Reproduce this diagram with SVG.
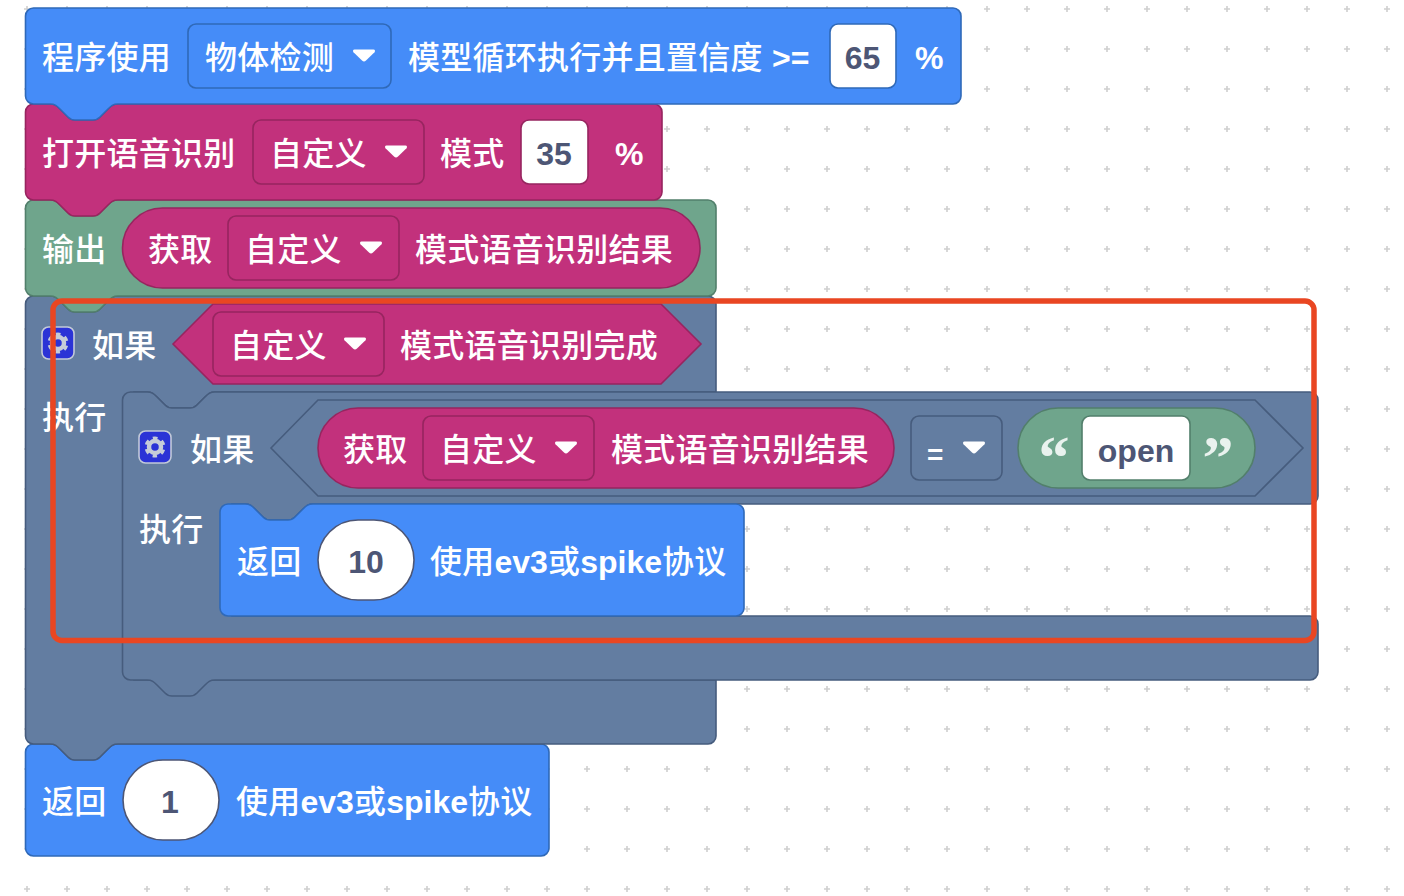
<svg xmlns="http://www.w3.org/2000/svg" width="1404" height="896" viewBox="0 0 1404 896">
<style>
text{font-family:"Noto Sans CJK SC","Liberation Sans",sans-serif;font-size:32px;font-weight:500;fill:#fff;letter-spacing:.25px}
.lat{font-family:"Liberation Sans","Noto Sans CJK SC",sans-serif;font-weight:700;letter-spacing:0}
.val{font-family:"Liberation Sans",sans-serif;font-size:32px;font-weight:700;fill:#4d5675;text-anchor:middle;letter-spacing:0}
.q{font-family:"Liberation Serif",serif;font-size:62px;font-weight:700;fill:#fff;fill-opacity:.85;text-anchor:middle;letter-spacing:0}
.blue{fill:#458cf8;stroke:#2f69b8;stroke-width:1.6}
.mag{fill:#c2317c;stroke:#97255f;stroke-width:1.6}
.grn{fill:#6fa58c;stroke:#527f6b;stroke-width:1.6}
.sl{fill:#637da1;stroke:#465c7d;stroke-width:1.6}
.field{fill:#fff}
.vp{fill:#fff;stroke:#4d5675;stroke-width:1.6}
</style>
<defs>
<pattern id="grid" patternUnits="userSpaceOnUse" x="7" y="-11" width="40" height="40">
<path d="M19.200 17h1.600v2.200H23v1.600h-2.200V23h-1.600v-2.200H17v-1.600h2.200z" fill="#cfcfcf"/>
</pattern>
<path id="chev" d="M-9.500-6.500h19c1.500 0 2 1.500 1 2.700l-8.500 8.300c-1.300 1.200-2.700 1.200-4 0l-8.500-8.300c-1-1.200-.5-2.700 1-2.700z" fill="#fff"/>
<g id="gear">
<rect x="-15.500" y="-16" width="32" height="32" rx="6.500" fill="#2b33d6" stroke="#c2c9d9" stroke-width="1.600"/>
<circle cx=".5" cy="0" r="6" fill="none" stroke="#c6ccd8" stroke-width="4.500"/>
<circle cx=".5" cy="0" r="9" fill="none" stroke="#c6ccd8" stroke-width="3" stroke-dasharray="4.700 4.720" stroke-dashoffset="2.350" transform="rotate(90 .5 0)"/>
</g>
</defs>
<rect width="1404" height="896" fill="#fff"/>
<rect width="1404" height="896" fill="url(#grid)"/>

<g id="return-1">
<path class="blue" d="M25.500 752a8 8 0 0 1 8-8H50c5 0 7 2 10 5l8 8c2 2 4 3 7 3h18c3 0 5-1 7-3l8-8c3-3 5-5 10-5H541a8 8 0 0 1 8 8v96a8 8 0 0 1-8 8H33.500a8 8 0 0 1-8-8z"/>
<text x="42" y="813">返回</text>
<rect class="vp" x="123" y="760" width="96" height="80" rx="40"/>
<text class="val" x="170" y="813">1</text>
<text x="236" y="813">使用<tspan class="lat">ev3</tspan>或<tspan class="lat">spike</tspan>协议</text>
</g>

<g id="if-outer">
<path class="sl" d="M25.500 304a8 8 0 0 1 8-8H50c5 0 7 2 10 5l8 8c2 2 4 3 7 3h18c3 0 5-1 7-3l8-8c3-3 5-5 10-5H708a8 8 0 0 1 8 8V392H215c-5 0-7 2-10 5l-8 8c-2 2-4 3-7 3h-18c-3 0-5-1-7-3l-8-8c-3-3-5-5-10-5H134V680H716V736a8 8 0 0 1-8 8H118c-5 0-7 2-10 5l-8 8c-2 2-4 3-7 3H75c-3 0-5-1-7-3l-8-8c-3-3-5-5-10-5H33.500a8 8 0 0 1-8-8z"/>
<use href="#gear" x="57.500" y="343"/>
<text x="92" y="357">如果</text>
<polygon class="mag" points="173,344 213,304 661,304 701,344 661,384 213,384"/>
<rect class="mag" x="213" y="312" width="171" height="64" rx="8"/>
<text x="230" y="357">自定义</text>
<use href="#chev" x="355" y="344"/>
<text x="400" y="357">模式语音识别完成</text>
<text x="42" y="429">执行</text>
</g>

<g id="if-inner">
<path class="sl" d="M122.500 400a8 8 0 0 1 8-8H147c5 0 7 2 10 5l8 8c2 2 4 3 7 3h18c3 0 5-1 7-3l8-8c3-3 5-5 10-5H1310a8 8 0 0 1 8 8v96a8 8 0 0 1-8 8H313c-5 0-7 2-10 5l-8 8c-2 2-4 3-7 3h-18c-3 0-5-1-7-3l-8-8c-3-3-5-5-10-5H232V616H1310a8 8 0 0 1 8 8v48a8 8 0 0 1-8 8H215c-5 0-7 2-10 5l-8 8c-2 2-4 3-7 3h-18c-3 0-5-1-7-3l-8-8c-3-3-5-5-10-5h-16.500a8 8 0 0 1-8-8z"/>
<use href="#gear" x="154.500" y="447"/>
<text x="190" y="461">如果</text>
<polygon class="sl" points="271,448 318,400 1255,400 1303,448 1255,496 318,496"/>
<rect class="mag" x="318" y="408" width="576" height="80" rx="40"/>
<text x="343" y="461">获取</text>
<rect class="mag" x="423" y="416" width="171" height="64" rx="8"/>
<text x="440" y="461">自定义</text>
<use href="#chev" x="566" y="448"/>
<text x="611" y="461">模式语音识别结果</text>
<rect class="sl" x="911" y="416" width="91" height="64" rx="8"/>
<text class="lat" x="927" y="464" style="font-size:28px">=</text>
<use href="#chev" x="974" y="448"/>
<rect class="grn" x="1018" y="408" width="237" height="80" rx="40"/>
<text class="q" x="1054" y="478">“</text>
<rect class="field" x="1082" y="416" width="108" height="64" rx="8" stroke="#527f6b" stroke-width="1.600"/>
<text class="val" x="1136" y="462">open</text>
<text class="q" x="1218" y="478">”</text>
<text x="139" y="541">执行</text>
</g>

<g id="return-10">
<path class="blue" d="M220 512a8 8 0 0 1 8-8H245c5 0 7 2 10 5l8 8c2 2 4 3 7 3h18c3 0 5-1 7-3l8-8c3-3 5-5 10-5H736a8 8 0 0 1 8 8v96a8 8 0 0 1-8 8H228a8 8 0 0 1-8-8z"/>
<text x="237" y="573">返回</text>
<rect class="vp" x="318" y="520" width="96" height="80" rx="40"/>
<text class="val" x="366" y="573">10</text>
<text x="430" y="573">使用<tspan class="lat">ev3</tspan>或<tspan class="lat">spike</tspan>协议</text>
</g>

<g id="output">
<path class="grn" d="M25.500 208a8 8 0 0 1 8-8H50c5 0 7 2 10 5l8 8c2 2 4 3 7 3h18c3 0 5-1 7-3l8-8c3-3 5-5 10-5H708a8 8 0 0 1 8 8v80a8 8 0 0 1-8 8H118c-5 0-7 2-10 5l-8 8c-2 2-4 3-7 3H75c-3 0-5-1-7-3l-8-8c-3-3-5-5-10-5H33.500a8 8 0 0 1-8-8z"/>
<text x="42" y="261">输出</text>
<rect class="mag" x="122.500" y="208" width="577.500" height="80" rx="40"/>
<text x="148" y="261">获取</text>
<rect class="mag" x="228" y="216" width="171" height="64" rx="8"/>
<text x="245" y="261">自定义</text>
<use href="#chev" x="371" y="248"/>
<text x="415" y="261">模式语音识别结果</text>
</g>

<g id="voice">
<path class="mag" d="M25.500 112a8 8 0 0 1 8-8H50c5 0 7 2 10 5l8 8c2 2 4 3 7 3h18c3 0 5-1 7-3l8-8c3-3 5-5 10-5H654a8 8 0 0 1 8 8v80a8 8 0 0 1-8 8H118c-5 0-7 2-10 5l-8 8c-2 2-4 3-7 3H75c-3 0-5-1-7-3l-8-8c-3-3-5-5-10-5H33.500a8 8 0 0 1-8-8z"/>
<text x="42" y="165">打开语音识别</text>
<rect class="mag" x="253" y="120" width="171" height="64" rx="8"/>
<text x="270" y="165">自定义</text>
<use href="#chev" x="396" y="152"/>
<text x="440" y="165">模式</text>
<rect class="field" x="521" y="120" width="67" height="64" rx="8" stroke="#97255f" stroke-width="1.600"/>
<text class="val" x="554" y="165">35</text>
<text class="lat" x="615" y="165">%</text>
</g>

<g id="detect">
<path class="blue" d="M25.500 16a8 8 0 0 1 8-8H953a8 8 0 0 1 8 8v80a8 8 0 0 1-8 8H118c-5 0-7 2-10 5l-8 8c-2 2-4 3-7 3H75c-3 0-5-1-7-3l-8-8c-3-3-5-5-10-5H33.500a8 8 0 0 1-8-8z"/>
<text x="42" y="69">程序使用</text>
<rect class="blue" x="188" y="24" width="203" height="64" rx="8"/>
<text x="205" y="69">物体检测</text>
<use href="#chev" x="364" y="56"/>
<text x="408" y="69">模型循环执行并且置信度</text>
<text class="lat" x="772" y="69">&gt;=</text>
<rect class="field" x="830" y="24" width="66" height="64" rx="8" stroke="#2f69b8" stroke-width="1.600"/>
<text class="val" x="862.500" y="69">65</text>
<text class="lat" x="915" y="69">%</text>
</g>

<rect id="highlight" x="53" y="301" width="1261" height="339.500" rx="9" fill="none" stroke="#e94622" stroke-width="5.500"/>
</svg>
